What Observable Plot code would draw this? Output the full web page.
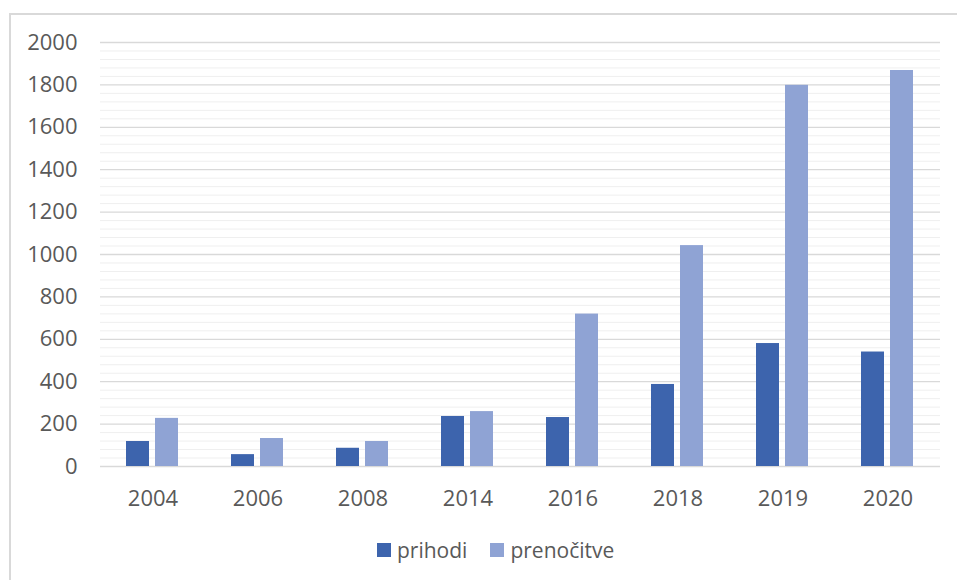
<!DOCTYPE html>
<html>
<head>
<meta charset="utf-8">
<script src="https://cdn.jsdelivr.net/npm/d3@7"></script>
<script src="https://cdn.jsdelivr.net/npm/@observablehq/plot@0.6"></script>
<style>
  html, body { margin: 0; padding: 0; background: #fff; }
  body { width: 957px; height: 580px; position: relative; overflow: hidden; font-family: "Open Sans", sans-serif; }
  #frame { position: absolute; left: 9px; top: 13px; width: 1200px; height: 1200px; border-left: 2px solid #d9d9d9; border-top: 2px solid #d9d9d9; box-sizing: border-box; }
  #chart { position: absolute; left: 0; top: 0; }
  #legend { position: absolute; left: 377px; top: 536px; display: flex; align-items: center; font-size: 21px; color: #595959; }
  .item { display: flex; align-items: center; margin-right: 23px; }
  .sw { width: 14px; height: 14px; margin-right: 6px; }
</style>
</head>
<body>
<div id="frame"></div>
<div id="chart"></div>
<div id="legend"></div>
<script>
const years = ["2004", "2006", "2008", "2014", "2016", "2018", "2019", "2020"];
const series = ["prihodi", "prenočitve"];
const prihodi = [118, 56, 86, 236, 231, 387, 580, 540];
const prenocitve = [227, 132, 118, 259, 719, 1042, 1798, 1868];
const yTicks = [0, 200, 400, 600, 800, 1000, 1200, 1400, 1600, 1800, 2000];
const minorTicks = d3.range(0, 2001, 40).filter(v => v % 200 !== 0);
const colors = ["#3D64AD", "#8FA3D4"];

const data = [];
years.forEach((yr, i) => {
  data.push({year: yr, series: series[0], value: prihodi[i]});
  data.push({year: yr, series: series[1], value: prenocitve[i]});
});

const chart = Plot.plot({
  width: 957,
  height: 520,
  marginTop: 42,
  marginBottom: 54,
  marginLeft: 98,
  marginRight: 16,
  style: {fontSize: "22px", fontFamily: "'Open Sans', sans-serif", color: "#595959", background: "transparent", overflow: "visible"},
  fx: {domain: years, padding: 0, tickSize: 0, tickPadding: 24, label: null},
  x: {domain: series, paddingInner: 0.2, paddingOuter: 0.855, axis: null},
  y: {domain: [0, 2000], ticks: yTicks, tickSize: 0, tickPadding: 23, label: null, tickFormat: d => String(d)},
  color: {domain: series, range: colors},
  marks: [
    Plot.ruleY(minorTicks, {stroke: "#efefef", strokeWidth: 1}),
    Plot.ruleY(yTicks, {stroke: "#d9d9d9", strokeWidth: 1.3}),
    Plot.barY(data, {fx: "year", x: "series", y: "value", fill: "series"})
  ]
});
document.getElementById("chart").appendChild(chart);

const legend = document.getElementById("legend");
series.forEach((s, i) => {
  const item = document.createElement("div");
  item.className = "item";
  const sw = document.createElement("div");
  sw.className = "sw";
  sw.style.background = colors[i];
  const t = document.createElement("span");
  t.textContent = s;
  item.appendChild(sw);
  item.appendChild(t);
  legend.appendChild(item);
});
</script>
</body>
</html>
